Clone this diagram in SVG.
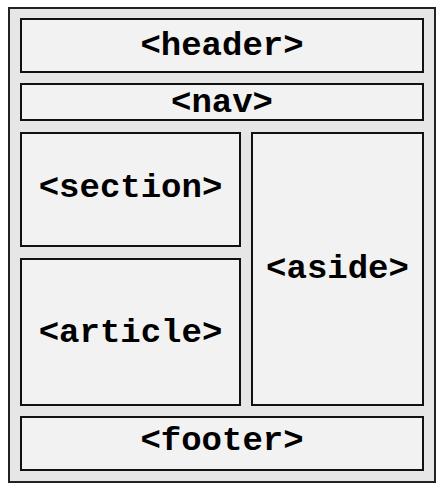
<svg xmlns="http://www.w3.org/2000/svg" width="440" height="486" viewBox="0 0 440 486">
<style>
.outer{fill:#e6e6e6;stroke:#222;stroke-width:2}
.box{fill:#f2f2f2;stroke:#111;stroke-width:2}
.lbl{font-family:"Liberation Mono","Courier New",monospace;font-weight:bold;font-size:34px;fill:#000;text-anchor:middle}
</style>
<rect class="outer" x="9" y="8" width="426" height="474"/>
<g id="header"><rect class="box" x="21" y="19" width="402" height="53"/><text class="lbl" x="222" y="55">&lt;header&gt;</text></g>
<g id="nav"><rect class="box" x="21" y="84" width="402" height="36"/><text class="lbl" x="222" y="112">&lt;nav&gt;</text></g>
<g id="section"><rect class="box" x="21" y="133" width="219" height="113"/><text class="lbl" x="130.5" y="197">&lt;section&gt;</text></g>
<g id="article"><rect class="box" x="21" y="259" width="219" height="146"/><text class="lbl" x="130.5" y="342">&lt;article&gt;</text></g>
<g id="aside"><rect class="box" x="252" y="133" width="171" height="272"/><text class="lbl" x="337.5" y="278">&lt;aside&gt;</text></g>
<g id="footer"><rect class="box" x="21" y="417" width="402" height="53"/><text class="lbl" x="222" y="450">&lt;footer&gt;</text></g>
<g id="connectors"/>
</svg>
